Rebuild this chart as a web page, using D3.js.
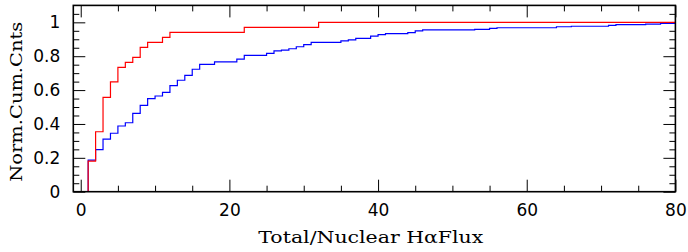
<!DOCTYPE html>
<html>
<head>
<meta charset="utf-8">
<script src="https://cdn.jsdelivr.net/npm/d3@7/dist/d3.min.js"></script>
<style>
  body { margin: 0; background: #fff; }
  svg { display: block; }
  .tick text { font-family: "DejaVu Sans", sans-serif; font-size: 17px; fill: #000; }
  .title { font-family: "DejaVu Serif", serif; font-size: 17px; fill: #000; }
</style>
</head>
<body>
<div id="chart"></div>
<script>
// step positions (x) and cumulative normalised counts (y)
const redX = [1, 2, 3, 4, 5, 6, 7, 8, 9, 11, 12, 22, 32];
const redY = [0.181, 0.354, 0.557, 0.649, 0.734, 0.764, 0.793, 0.852, 0.882, 0.911, 0.941, 0.970, 1.0];

const blueX = [1, 2, 3, 4, 5, 6, 7, 8, 9, 10, 11, 12, 13, 14, 15, 16, 18, 21, 22, 25, 26, 27, 28, 29, 30, 31,
  35, 36, 37, 39, 40, 41, 44, 45, 46, 53, 55, 56, 64, 66, 71, 72, 76, 78];
const blueY = [0.187, 0.248, 0.311, 0.345, 0.388, 0.407, 0.463, 0.51, 0.549, 0.565, 0.587, 0.626, 0.658, 0.687,
  0.723, 0.752, 0.767, 0.783, 0.805, 0.817, 0.831, 0.836, 0.844, 0.856, 0.868, 0.882,
  0.891, 0.897, 0.905, 0.919, 0.927, 0.933, 0.939, 0.950, 0.955, 0.958, 0.964, 0.968, 0.974, 0.977, 0.982, 0.986, 0.990, 0.993];

const xMajor = [0, 20, 40, 60, 80];
const yMajor = [0, 0.2, 0.4, 0.6, 0.8, 1];
const xLabel = 'Total/Nuclear H\u03b1Flux';
const yLabel = 'Norm.Cum.Cnts';

const width = 688;
const height = 252;
const margin = { top: 5.4, right: 12.6, bottom: 60.3, left: 73.3 };
const innerW = width - margin.left - margin.right;
const innerH = height - margin.top - margin.bottom;

const x = d3.scaleLinear().domain([-1, 80]).range([0, innerW]);
const y = d3.scaleLinear().domain([0, 1.1]).range([innerH, 0]);

const xMinor = d3.range(0, 80.01, 5).filter(v => !xMajor.includes(v));
const yMinor = d3.range(0, 1.1, 0.05).map(v => +v.toFixed(2)).filter(v => !yMajor.includes(v));

const svg = d3.select('#chart')
  .append('svg')
  .attr('width', width)
  .attr('height', height);

const g = svg.append('g')
  .attr('transform', `translate(${margin.left},${margin.top})`);

svg.append('defs').append('clipPath').attr('id', 'clip')
  .append('rect').attr('width', innerW).attr('height', innerH);

function styleAxis(sel) {
  sel.select('.domain').remove();
  sel.selectAll('.tick line').attr('stroke', '#000').attr('stroke-width', 1);
}

// major ticks with labels
g.append('g')
  .attr('transform', `translate(0,${innerH})`)
  .call(d3.axisBottom(x).tickValues(xMajor).tickSize(-12).tickPadding(12).tickFormat(d3.format('d')))
  .call(styleAxis);
g.append('g')
  .call(d3.axisLeft(y).tickValues(yMajor).tickSize(-12).tickPadding(13).tickFormat(d => d3.format('~g')(d)))
  .call(styleAxis);
g.append('g')
  .call(d3.axisTop(x).tickValues(xMajor).tickSize(-12).tickFormat(''))
  .call(styleAxis);
g.append('g')
  .attr('transform', `translate(${innerW},0)`)
  .call(d3.axisRight(y).tickValues(yMajor).tickSize(-12).tickFormat(''))
  .call(styleAxis);

// minor ticks
g.append('g')
  .attr('transform', `translate(0,${innerH})`)
  .call(d3.axisBottom(x).tickValues(xMinor).tickSize(-6).tickFormat(''))
  .call(styleAxis);
g.append('g')
  .call(d3.axisTop(x).tickValues(xMinor).tickSize(-6).tickFormat(''))
  .call(styleAxis);
g.append('g')
  .call(d3.axisLeft(y).tickValues(yMinor).tickSize(-6).tickFormat(''))
  .call(styleAxis);
g.append('g')
  .attr('transform', `translate(${innerW},0)`)
  .call(d3.axisRight(y).tickValues(yMinor).tickSize(-6).tickFormat(''))
  .call(styleAxis);

const line = d3.line()
  .x(d => x(d[0]))
  .y(d => y(d[1]))
  .curve(d3.curveStepAfter);

function stepPoints(xs, ys) {
  const pts = [[xs[0], 0]];
  xs.forEach((v, i) => pts.push([v, ys[i]]));
  pts.push([80, ys[ys.length - 1]]);
  return pts;
}

const plot = g.append('g').attr('clip-path', 'url(#clip)');
plot.append('path')
  .attr('d', line(stepPoints(blueX, blueY)))
  .attr('fill', 'none')
  .attr('stroke', '#0000ff')
  .attr('stroke-width', 1.2);
plot.append('path')
  .attr('d', line(stepPoints(redX, redY)))
  .attr('fill', 'none')
  .attr('stroke', '#ff0000')
  .attr('stroke-width', 1.2);

// frame
g.append('rect')
  .attr('width', innerW)
  .attr('height', innerH)
  .attr('fill', 'none')
  .attr('stroke', '#000')
  .attr('stroke-width', 1.6);

svg.append('text')
  .attr('class', 'title')
  .attr('x', 370.8)
  .attr('y', 243)
  .attr('text-anchor', 'middle')
  .attr('textLength', 225)
  .attr('lengthAdjust', 'spacingAndGlyphs')
  .text(xLabel);

svg.append('text')
  .attr('class', 'title')
  .attr('transform', 'translate(21.7,101.7) rotate(-90)')
  .attr('text-anchor', 'middle')
  .attr('textLength', 160)
  .attr('lengthAdjust', 'spacingAndGlyphs')
  .text(yLabel);
</script>
</body>
</html>
